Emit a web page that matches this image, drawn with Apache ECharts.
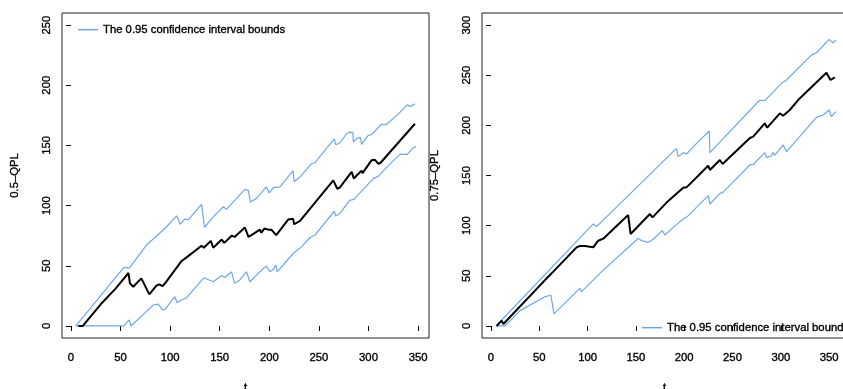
<!DOCTYPE html>
<html>
<head>
<meta charset="utf-8">
<script src="https://cdn.jsdelivr.net/npm/echarts@6/dist/echarts.min.js"></script>
<style>
  html, body { margin: 0; padding: 0; background: #fff; }
  #chart { width: 843px; height: 389px; }
</style>
</head>
<body>
<div id="chart"></div>
<script>
// tick labels
const xTicks = [0, 50, 100, 150, 200, 250, 300, 350];
const yTicksLeft = [0, 50, 100, 150, 200, 250];
const yTicksRight = [0, 50, 100, 150, 200, 250, 300];

// left panel: 0.5-QPL, [t, value]
const q50Upper = [[5,0],[53.4,48.6],[58.8,48],[76,67],[96,82],[106.5,91.5],[110,84.5],[115,89],[118,88],[131.7,101],[134.7,82],[143.5,90.6],[153.6,99],[157,97],[175.4,113.5],[178.8,112.7],[181,103],[187,106],[197,115.5],[200,110.5],[204,115],[210.7,115.5],[224,129],[225,120],[231,123.8],[242.6,134.8],[246,135.6],[265.5,155.5],[267,150.6],[271,152],[278,159.7],[281,161],[284.2,160.8],[284.8,152.8],[288.6,156],[292,156.4],[293,150.8],[299.7,158.3],[303,159],[313,167.4],[318,167.4],[330,176],[339,183.7],[342.4,182.3],[346.8,184.5]];
const q50Mid = [[7.5,0],[12,0],[30,18],[45,31],[58,44],[59.5,35.4],[62.8,32.6],[71,39.5],[79,26.2],[86,33.4],[89,34.5],[92.4,33],[96,36.7],[111.6,54],[116.6,57],[131.7,66.6],[134,65],[136,65.7],[141,70.7],[143.5,65],[152,71.8],[154.6,69],[162,75],[165,74],[175.4,81.8],[179,74],[182,75.4],[190.5,80],[192,77.3],[195,81],[199,80],[202,80],[207,75.4],[219,88.4],[224,89],[225,84.5],[231,87.3],[264.5,121],[268.5,114],[271,115],[283,128],[285.3,122.4],[288,125],[293,129],[294,127],[303,137.6],[306.5,138],[309.8,134.8],[312,135.4],[346.8,168]];
const q50Lower = [[5,0],[53.4,0],[58.8,5],[60.5,0],[76,11.9],[83,17.4],[88,18.2],[92.4,13.3],[94.8,13.8],[104.8,24.3],[107,19.3],[111.6,21.5],[116.6,23.5],[134,40],[143.5,36.7],[152,42],[155,40.3],[162,45],[165,35.4],[170,38],[177,45],[180.4,36.7],[194,47.8],[197,49.7],[200.6,45],[204,47],[206.6,50.5],[208,45],[224,60.2],[232.5,65.7],[241,73.5],[246,75.4],[265.5,95.3],[267,91.4],[271,93.4],[281,104.4],[285.3,105.2],[304.8,122.4],[309.8,124.3],[318,131.5],[331.6,142.5],[339,142.5],[345,148],[348,149]];

// right panel: 0.75-QPL, [t, value]
const q75Upper = [[5.2,0],[105.9,101.7],[109.3,99],[111,99.7],[192,177],[193.8,168.8],[199,172.8],[202.4,171.4],[212.8,182],[225.9,194.4],[226.6,172.8],[278,225],[283.4,224.6],[300.7,241.9],[305.9,245.2],[331.7,270],[336.9,272.4],[350,285.7],[354,282.4],[357,285]];
const q75Mid = [[5.9,0],[11,5.3],[12.8,2],[57.6,47.5],[64.5,54.2],[88.6,78.4],[92,79.7],[97.2,79.7],[105.9,78.4],[111,85],[116.2,87],[130,99.7],[142,110.6],[144.5,91.7],[164.5,111.6],[167.2,108.3],[181.7,123],[199,137.9],[202.4,138.2],[224.8,159.8],[226.6,155.5],[236.9,165.4],[239.7,161.5],[268,187.4],[271.4,188.7],[283.4,202],[285.9,197.7],[299,212],[302.4,209.6],[309.3,215.3],[317.9,225.2],[347.2,252.5],[351.4,245.2],[355.9,247.8]];
const q75Lower = [[5.2,0],[14.5,0],[30,15.3],[55.9,29.2],[62,30.6],[65.2,12],[92,37.5],[93.8,34.2],[114.5,54.2],[143.8,79.7],[145.5,79],[152.4,87.4],[155.9,85],[162.8,83.4],[168,86.4],[177.2,95],[180,90.7],[188.6,98.3],[190.3,96.7],[199,106.6],[202.4,108.3],[224.8,130],[226.6,121.6],[236.9,132.2],[239.7,132.9],[268,160.5],[271.4,161],[283.4,172.8],[285.2,168],[290.3,169.4],[292,172.8],[293.8,170.4],[302.4,180.4],[305.9,173.8],[336.9,208],[343.8,210.3],[350,215.3],[352.4,208.6],[357,213.6]];

const bandName = 'The 0.95 confidence interval bounds';
const blue = '#6ea8e8';
const font = 'Liberation Sans, Arial, Helvetica, sans-serif';
const txt = { color: '#000', fontFamily: font, fontSize: 11.3, textBorderColor: '#000', textBorderWidth: 0.35 };

let myChart = echarts.init(document.getElementById('chart'), null, { renderer: 'canvas' });

function xAxisFor(gridIndex, min, max) {
    return {
        type: 'value', gridIndex: gridIndex, min: min, max: max,
        name: 't', nameLocation: 'middle', nameGap: 44,
        nameTextStyle: txt,
        splitLine: { show: false },
        axisLine: { show: false },
        axisTick: { show: true, inside: false, length: 5, customValues: xTicks, lineStyle: { color: '#000' } },
        axisLabel: Object.assign({ customValues: xTicks, margin: 14 }, txt)
    };
}
function yAxisFor(gridIndex, min, max, ticks, name) {
    return {
        type: 'value', gridIndex: gridIndex, min: min, max: max,
        name: name, nameLocation: 'middle', nameGap: 42, nameRotate: 90,
        nameTextStyle: txt,
        splitLine: { show: false },
        axisLine: { show: false },
        axisTick: { show: true, inside: false, length: 5, customValues: ticks, lineStyle: { color: '#000' } },
        axisLabel: Object.assign({ customValues: ticks, rotate: 90, margin: 10 }, txt)
    };
}
function lineSeries(name, data, idx, color, width) {
    return {
        name: name, type: 'line', data: data, xAxisIndex: idx, yAxisIndex: idx,
        showSymbol: false, symbol: 'none', animation: false, z: width > 1.5 ? 3 : 2,
        lineStyle: { color: color, width: width },
        itemStyle: { color: color }
    };
}

let option = {
    animation: false,
    grid: [
        { left: 62, top: 13, width: 367, height: 325, outerBoundsMode: 'none', containLabel: false,
          show: true, borderColor: '#222', borderWidth: 1 },
        { left: 482, top: 13, width: 365, height: 325, outerBoundsMode: 'none', containLabel: false,
          show: true, borderColor: '#222', borderWidth: 1 }
    ],
    xAxis: [xAxisFor(0, -9, 361), xAxisFor(1, -9.3, 368.5)],
    yAxis: [yAxisFor(0, -10, 260, yTicksLeft, '0.5\u2013QPL'), yAxisFor(1, -12, 312, yTicksRight, '0.75\u2013QPL')],
    legend: [
        { data: [bandName], left: 73, top: 19, icon: 'rect', itemWidth: 20, itemHeight: 1.5, itemGap: 10, selectedMode: false,
          textStyle: txt },
        { data: [bandName], left: 637, top: 317, icon: 'rect', itemWidth: 20, itemHeight: 1.5, itemGap: 10, selectedMode: false,
          textStyle: txt }
    ],
    series: [
        lineSeries(bandName, q50Upper, 0, blue, 1.2),
        lineSeries(bandName, q50Lower, 0, blue, 1.2),
        lineSeries('q50', q50Mid, 0, '#000', 2),
        lineSeries(bandName, q75Upper, 1, blue, 1.2),
        lineSeries(bandName, q75Lower, 1, blue, 1.2),
        lineSeries('q75', q75Mid, 1, '#000', 2)
    ]
};
option && myChart.setOption(option);
</script>
</body>
</html>
